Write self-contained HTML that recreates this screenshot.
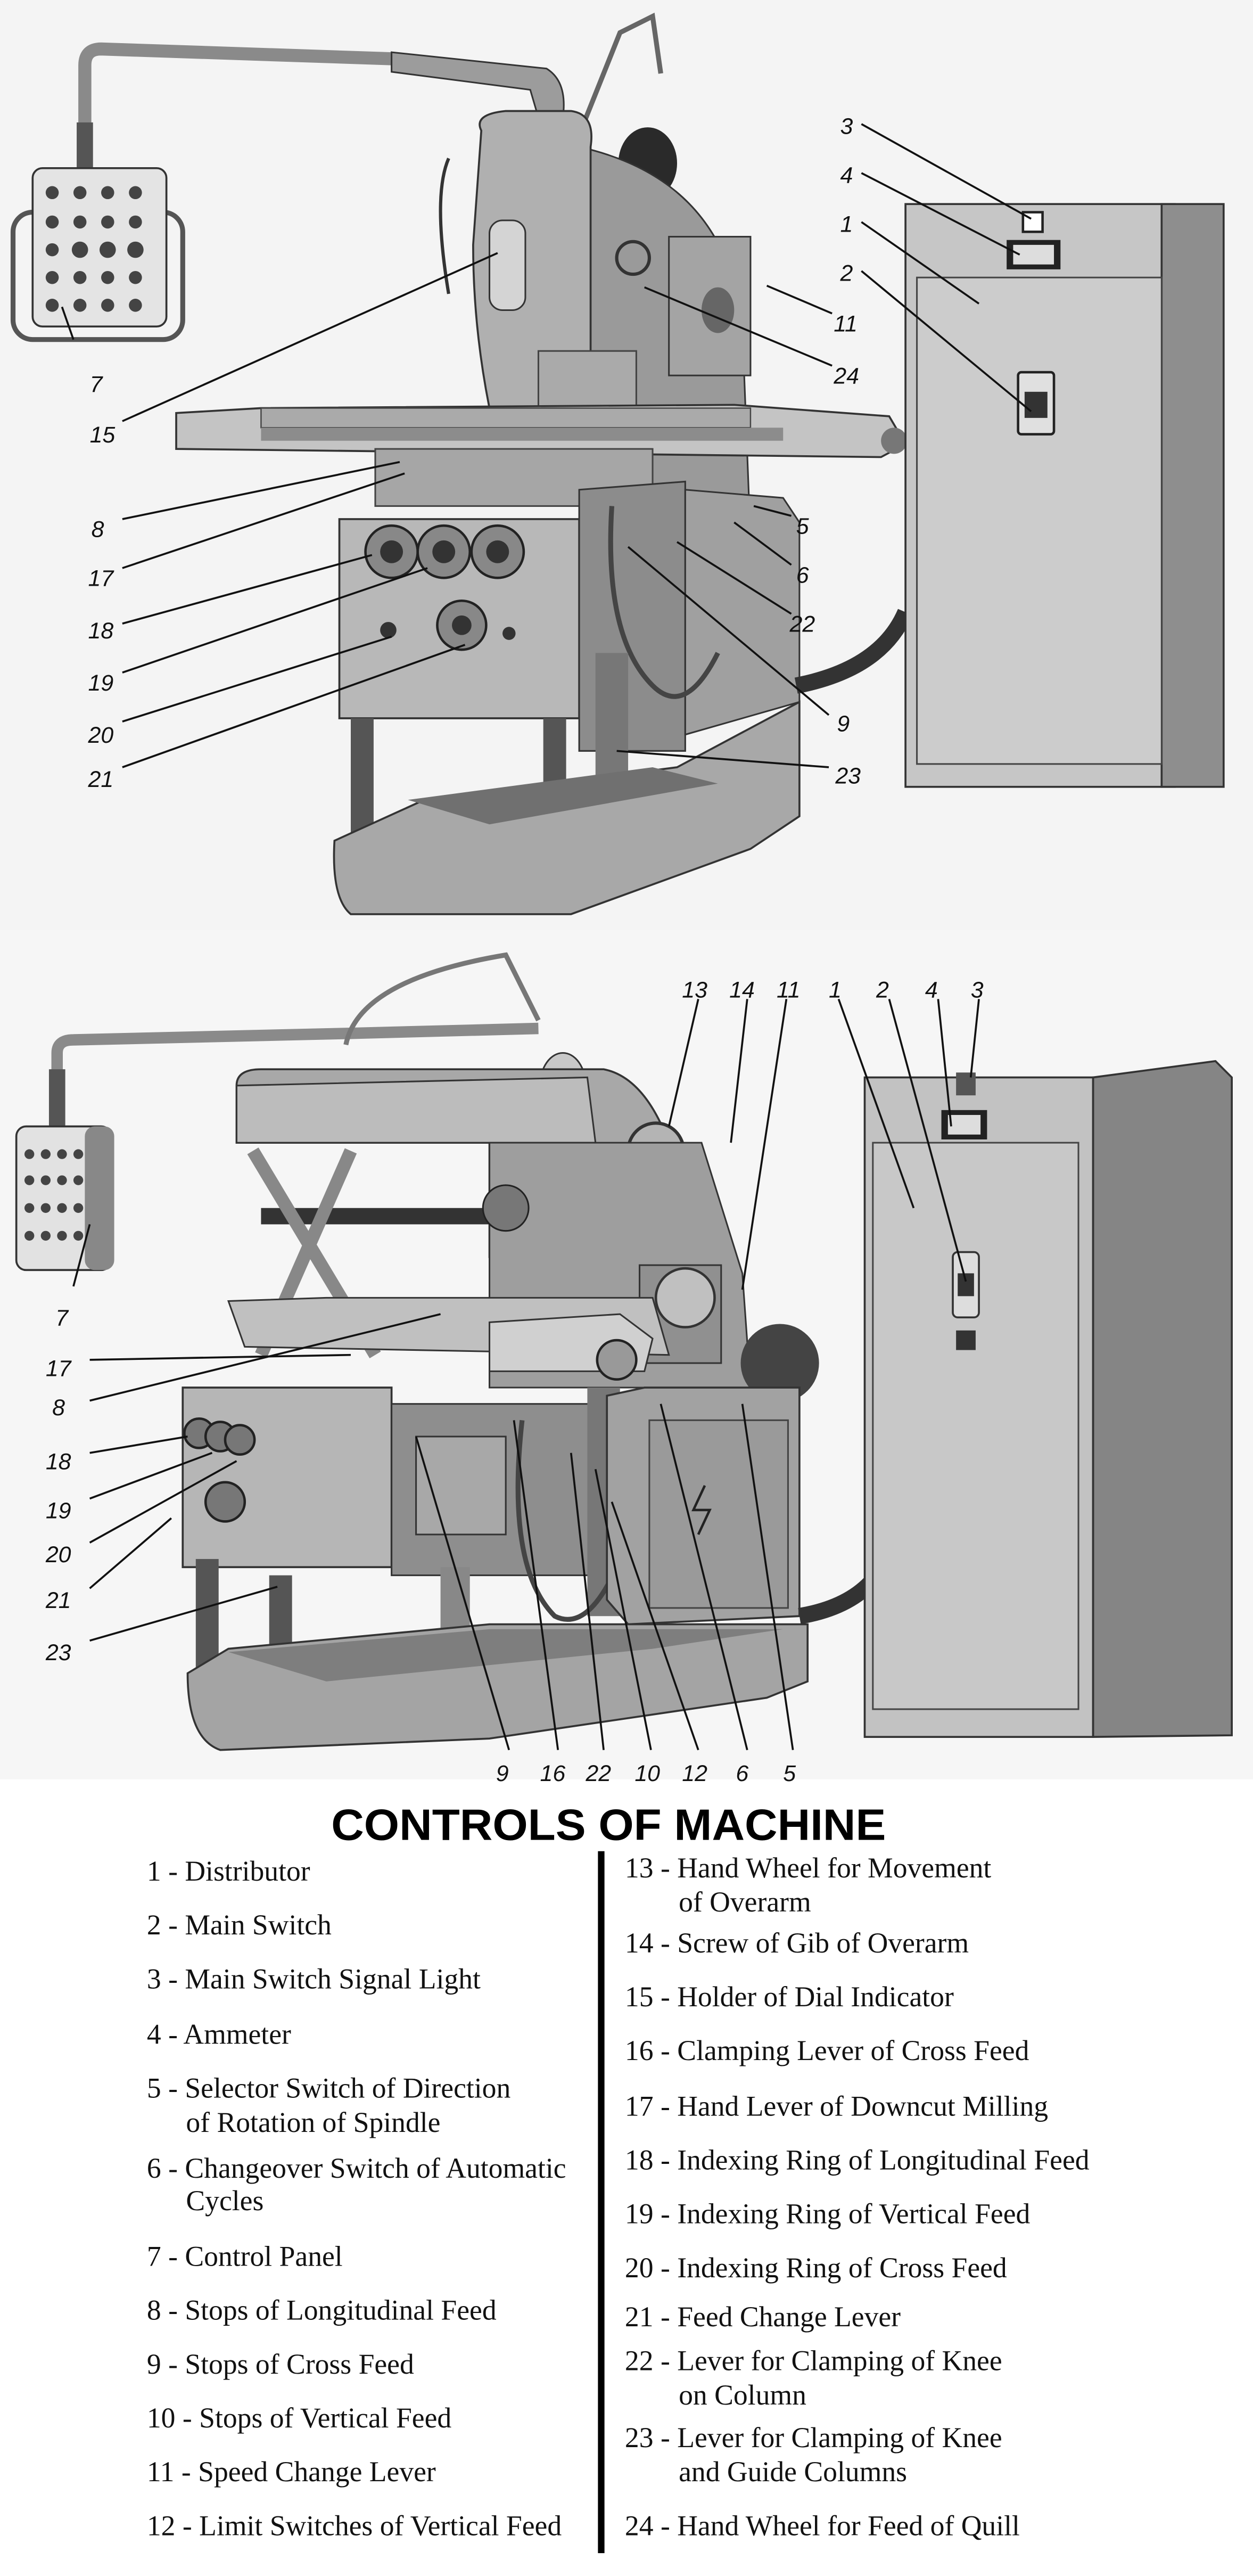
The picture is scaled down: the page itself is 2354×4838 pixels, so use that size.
<!DOCTYPE html>
<html><head><meta charset="utf-8"><style>
html,body{margin:0;padding:0;background:#fff;}
svg{display:block;}
.lb{font-family:"Liberation Sans",sans-serif;font-style:italic;font-size:14px;fill:#111;}
.it{font-family:"Liberation Serif",serif;font-size:17.5px;fill:#111;}
.ld{stroke:#111;stroke-width:1.2;fill:none;}
</style></head><body>
<svg width="2354" height="4838" viewBox="0 0 768 1578" preserveAspectRatio="none" xmlns="http://www.w3.org/2000/svg">
<rect width="768" height="1578" fill="#fff"/>
<rect width="768" height="570" fill="#f4f4f4"/>
<rect y="570" width="768" height="520" fill="#f6f6f6"/>

<!-- ===== TOP MACHINE ===== -->
<path d="M52,100 L52,40 Q52,30 62,30 L240,36 L330,48 L340,70" stroke="#8a8a8a" stroke-width="8" fill="none"/>
<path d="M240,32 L335,42 Q348,50 345,72 L330,72 L325,55 L240,44Z" fill="#9c9c9c" stroke="#333" stroke-width="1"/>
<rect x="47" y="75" width="10" height="30" fill="#555"/>
<rect x="8" y="130" width="104" height="78" rx="12" fill="none" stroke="#555" stroke-width="3"/>
<rect x="20" y="103" width="82" height="97" rx="6" fill="#e4e4e4" stroke="#333" stroke-width="1.2"/>
<g fill="#444">
<circle cx="32" cy="118" r="4"/><circle cx="49" cy="118" r="4"/><circle cx="66" cy="118" r="4"/><circle cx="83" cy="118" r="4"/>
<circle cx="32" cy="136" r="4"/><circle cx="49" cy="136" r="4"/><circle cx="66" cy="136" r="4"/><circle cx="83" cy="136" r="4"/>
<circle cx="32" cy="153" r="4"/><circle cx="49" cy="153" r="5"/><circle cx="66" cy="153" r="5"/><circle cx="83" cy="153" r="5"/>
<circle cx="32" cy="170" r="4"/><circle cx="49" cy="170" r="4"/><circle cx="66" cy="170" r="4"/><circle cx="83" cy="170" r="4"/>
<circle cx="32" cy="187" r="4"/><circle cx="49" cy="187" r="4"/><circle cx="66" cy="187" r="4"/><circle cx="83" cy="187" r="4"/>
</g>
<path d="M358,75 L380,20 L400,10 L405,45" stroke="#666" stroke-width="3" fill="none"/>
<ellipse cx="397" cy="100" rx="18" ry="22" fill="#2a2a2a"/>
<path d="M355,90 Q445,110 455,200 L460,330 L400,330 L360,290 Z" fill="#9a9a9a" stroke="#333" stroke-width="1"/>
<path d="M295,80 Q290,70 310,68 L350,68 Q365,70 362,90 L362,250 L300,250 Q290,200 290,150 Z" fill="#b0b0b0" stroke="#333" stroke-width="1.2"/>
<rect x="300" y="135" width="22" height="55" rx="8" fill="#d4d4d4" stroke="#333"/>
<rect x="410" y="145" width="50" height="85" fill="#a4a4a4" stroke="#333"/>
<ellipse cx="440" cy="190" rx="10" ry="14" fill="#666"/>
<circle cx="388" cy="158" r="10" fill="none" stroke="#333" stroke-width="2"/>
<rect x="330" y="215" width="60" height="35" fill="#aaa" stroke="#444"/>
<path d="M275,97 Q265,120 275,180" stroke="#333" stroke-width="2" fill="none"/>
<polygon points="108,253 160,250 450,248 545,255 555,272 540,280 108,275" fill="#c4c4c4" stroke="#333" stroke-width="1.2"/>
<rect x="160" y="250" width="300" height="12" fill="#aaa" stroke="#444" stroke-width="0.8"/>
<rect x="160" y="262" width="320" height="8" fill="#8c8c8c"/>
<circle cx="548" cy="270" r="8" fill="#777"/>
<rect x="230" y="275" width="170" height="35" fill="#a6a6a6" stroke="#444"/>
<path d="M208,318 L355,318 L355,440 L208,440 Z" fill="#b8b8b8" stroke="#333" stroke-width="1.2"/>
<g fill="#888" stroke="#222" stroke-width="1.5">
<circle cx="240" cy="338" r="16"/><circle cx="272" cy="338" r="16"/><circle cx="305" cy="338" r="16"/>
<circle cx="283" cy="383" r="15"/>
</g>
<g fill="#333"><circle cx="240" cy="338" r="7"/><circle cx="272" cy="338" r="7"/><circle cx="305" cy="338" r="7"/><circle cx="283" cy="383" r="6"/><circle cx="238" cy="386" r="5"/><circle cx="312" cy="388" r="4"/></g>
<path d="M355,300 L420,295 L420,460 L355,460 Z" fill="#8c8c8c" stroke="#333"/>
<path d="M420,300 L480,305 L490,320 L490,430 L420,450 Z" fill="#a0a0a0" stroke="#333"/>
<path d="M375,310 Q370,390 400,420 Q420,440 440,400" stroke="#444" stroke-width="3" fill="none"/>
<path d="M488,420 Q540,410 555,375" stroke="#333" stroke-width="10" fill="none"/>
<rect x="215" y="440" width="14" height="80" fill="#555"/>
<rect x="333" y="440" width="14" height="80" fill="#555"/>
<rect x="365" y="400" width="20" height="80" fill="#777"/>
<path d="M205,515 L260,490 L415,470 L490,430 L490,500 L460,520 L350,560 L215,560 Q203,550 205,515 Z" fill="#a8a8a8" stroke="#333" stroke-width="1.2"/>
<path d="M250,490 L400,470 L440,480 L300,505 Z" fill="#707070"/>
<rect x="555" y="125" width="165" height="357" fill="#c6c6c6" stroke="#333" stroke-width="1.2"/>
<rect x="712" y="125" width="38" height="357" fill="#8e8e8e" stroke="#333" stroke-width="1.2"/>
<rect x="562" y="170" width="150" height="298" fill="#cccccc" stroke="#444" stroke-width="1"/>
<rect x="624" y="228" width="22" height="38" rx="2" fill="#e0e0e0" stroke="#222" stroke-width="1.5"/>
<rect x="628" y="240" width="14" height="16" fill="#333"/>
<rect x="617" y="147" width="33" height="18" fill="#222"/><rect x="621" y="150" width="25" height="12" fill="#ddd"/>
<rect x="627" y="130" width="12" height="12" fill="#fff" stroke="#222" stroke-width="1.5"/>

<g class="ld">
<path d="M45,208 L38,188"/><path d="M75,258 L305,155"/>
<path d="M75,318 L245,283"/><path d="M75,348 L248,290"/><path d="M75,382 L228,340"/>
<path d="M75,412 L262,348"/><path d="M75,442 L240,390"/><path d="M75,470 L285,395"/>
<path d="M528,76 L632,134"/><path d="M528,106 L625,156"/><path d="M528,136 L600,186"/><path d="M528,166 L632,252"/>
<path d="M510,192 L470,175"/><path d="M510,224 L395,176"/>
<path d="M485,316 L462,310"/><path d="M485,346 L450,320"/><path d="M485,376 L415,332"/>
<path d="M508,438 L385,335"/><path d="M508,470 L378,460"/>
</g>
<g class="lb">
<text x="55" y="240">7</text><text x="55" y="271">15</text>
<text x="56" y="329">8</text><text x="54" y="359">17</text><text x="54" y="391">18</text><text x="54" y="423">19</text><text x="54" y="455">20</text><text x="54" y="482">21</text>
<text x="515" y="82">3</text><text x="515" y="112">4</text><text x="515" y="142">1</text><text x="515" y="172">2</text>
<text x="511" y="203">11</text><text x="511" y="235">24</text>
<text x="488" y="327">5</text><text x="488" y="357">6</text><text x="484" y="387">22</text>
<text x="513" y="448">9</text><text x="512" y="480">23</text>
</g>

<!-- ===== BOTTOM MACHINE ===== -->
<path d="M35,690 L35,645 Q35,637 45,637 L215,633 L330,630" stroke="#8a8a8a" stroke-width="7" fill="none"/>
<path d="M212,640 Q220,600 310,585 L330,625" stroke="#777" stroke-width="3" fill="none"/>
<ellipse cx="345" cy="665" rx="14" ry="20" fill="#c8c8c8" stroke="#333"/>
<rect x="30" y="655" width="10" height="35" fill="#555"/>
<rect x="10" y="690" width="58" height="88" rx="6" fill="#e2e2e2" stroke="#333" stroke-width="1.2"/>
<rect x="52" y="690" width="18" height="88" rx="6" fill="#888"/>
<g fill="#444">
<circle cx="18" cy="707" r="3"/><circle cx="28" cy="707" r="3"/><circle cx="38" cy="707" r="3"/><circle cx="48" cy="707" r="3"/>
<circle cx="18" cy="723" r="3"/><circle cx="28" cy="723" r="3"/><circle cx="38" cy="723" r="3"/><circle cx="48" cy="723" r="3"/>
<circle cx="18" cy="740" r="3"/><circle cx="28" cy="740" r="3"/><circle cx="38" cy="740" r="3"/><circle cx="48" cy="740" r="3"/>
<circle cx="18" cy="757" r="3"/><circle cx="28" cy="757" r="3"/><circle cx="38" cy="757" r="3"/><circle cx="48" cy="757" r="3"/>
</g>
<path d="M145,665 Q145,655 160,655 L370,655 Q395,660 410,700 L425,770 L300,770 L300,700 L145,700 Z" fill="#a8a8a8" stroke="#333" stroke-width="1.2"/>
<path d="M145,665 L360,660 L365,700 L145,700 Z" fill="#bcbcbc" stroke="#333"/>
<circle cx="402" cy="705" r="17" fill="#b4b4b4" stroke="#333" stroke-width="2"/>
<path d="M300,700 L430,700 L455,780 L460,850 L300,850 Z" fill="#9e9e9e" stroke="#333"/>
<rect x="392" y="775" width="50" height="60" fill="#909090" stroke="#333"/>
<circle cx="420" cy="795" r="18" fill="#c0c0c0" stroke="#333" stroke-width="1.5"/>
<circle cx="478" cy="835" r="24" fill="#444"/>
<rect x="160" y="740" width="140" height="10" fill="#333"/>
<circle cx="310" cy="740" r="14" fill="#777" stroke="#222"/>
<path d="M155,705 L230,830 M215,705 L160,830" stroke="#888" stroke-width="8" fill="none"/>
<polygon points="140,797 200,795 400,795 410,830 150,825" fill="#c0c0c0" stroke="#333"/>
<path d="M300,810 L380,805 L400,820 L395,840 L300,840 Z" fill="#d0d0d0" stroke="#333"/>
<circle cx="378" cy="833" r="12" fill="#999" stroke="#222" stroke-width="1.5"/>
<path d="M112,850 L240,850 L240,960 L112,960 Z" fill="#b6b6b6" stroke="#333" stroke-width="1.2"/>
<g fill="#777" stroke="#222" stroke-width="1.5"><circle cx="122" cy="878" r="9"/><circle cx="135" cy="880" r="9"/><circle cx="147" cy="882" r="9"/><circle cx="138" cy="920" r="12"/></g>
<rect x="240" y="860" width="130" height="105" fill="#8e8e8e" stroke="#333"/>
<rect x="255" y="880" width="55" height="60" fill="#a8a8a8" stroke="#333"/>
<path d="M360,850 L380,850 L380,990 L360,990 Z" fill="#777"/>
<path d="M320,870 Q310,960 340,990 Q360,1000 378,960" stroke="#444" stroke-width="3" fill="none"/>
<path d="M372,855 L395,850 L490,850 L490,990 L385,995 L372,980 Z" fill="#a2a2a2" stroke="#333" stroke-width="1.2"/>
<rect x="398" y="870" width="85" height="115" fill="#9a9a9a" stroke="#444"/>
<path d="M432,910 L425,925 L435,925 L428,940" stroke="#222" stroke-width="1.5" fill="none"/>
<path d="M490,990 Q520,985 535,968" stroke="#333" stroke-width="10" fill="none"/>
<rect x="120" y="955" width="14" height="80" fill="#555"/>
<rect x="165" y="965" width="14" height="75" fill="#555"/>
<rect x="270" y="960" width="18" height="50" fill="#888"/>
<path d="M115,1025 L140,1010 L300,995 L495,995 L495,1030 L470,1040 L300,1065 L135,1072 Q115,1065 115,1025 Z" fill="#a4a4a4" stroke="#333" stroke-width="1.2"/>
<path d="M140,1012 L300,998 L480,998 L400,1010 L200,1030 Z" fill="#7e7e7e"/>
<rect x="530" y="660" width="140" height="404" fill="#c2c2c2" stroke="#333" stroke-width="1.2"/>
<path d="M670,660 L745,650 L755,660 L755,1063 L670,1064 Z" fill="#858585" stroke="#333" stroke-width="1.2"/>
<rect x="535" y="700" width="126" height="347" fill="#c8c8c8" stroke="#444"/>
<rect x="584" y="767" width="16" height="40" rx="3" fill="#ddd" stroke="#333" stroke-width="1.2"/>
<rect x="587" y="780" width="10" height="14" fill="#333"/>
<rect x="586" y="815" width="12" height="12" fill="#333"/>
<rect x="577" y="680" width="28" height="18" fill="#222"/><rect x="581" y="683" width="20" height="12" fill="#ddd"/>
<rect x="586" y="657" width="12" height="14" fill="#555"/>

<g class="ld">
<path d="M428,612 L410,690"/><path d="M458,612 L448,700"/><path d="M482,612 L455,790"/>
<path d="M514,612 L560,740"/><path d="M545,612 L592,785"/><path d="M575,612 L583,690"/><path d="M600,612 L595,660"/>
<path d="M45,788 L55,750"/>
<path d="M55,833 L215,830"/><path d="M55,858 L270,805"/>
<path d="M55,890 L115,880"/><path d="M55,918 L130,890"/><path d="M55,945 L145,895"/><path d="M55,973 L105,930"/><path d="M55,1005 L170,972"/>
<path d="M312,1072 L255,880"/><path d="M342,1072 L315,870"/><path d="M370,1072 L350,890"/><path d="M399,1072 L365,900"/><path d="M428,1072 L375,920"/><path d="M458,1072 L405,860"/><path d="M486,1072 L455,860"/>
</g>
<g class="lb">
<text x="418" y="611">13</text><text x="447" y="611">14</text><text x="476" y="611">11</text><text x="508" y="611">1</text><text x="537" y="611">2</text><text x="567" y="611">4</text><text x="595" y="611">3</text>
<text x="34" y="812">7</text>
<text x="28" y="843">17</text><text x="32" y="867">8</text><text x="28" y="900">18</text><text x="28" y="930">19</text><text x="28" y="957">20</text><text x="28" y="985">21</text><text x="28" y="1017">23</text>
<text x="304" y="1091">9</text><text x="331" y="1091">16</text><text x="359" y="1091">22</text><text x="389" y="1091">10</text><text x="418" y="1091">12</text><text x="451" y="1091">6</text><text x="480" y="1091">5</text>
</g>

<text x="203" y="1127" textLength="340" lengthAdjust="spacingAndGlyphs" style="font-family:'Liberation Sans',sans-serif;font-weight:bold;font-size:27px;fill:#000;">CONTROLS OF MACHINE</text>
<rect x="366.5" y="1134" width="4" height="430" fill="#000"/>

<g class="it">
<text x="90" y="1152">1 - Distributor</text>
<text x="90" y="1185">2 - Main Switch</text>
<text x="90" y="1218">3 - Main Switch Signal Light</text>
<text x="90" y="1252">4 - Ammeter</text>
<text x="90" y="1285">5 - Selector Switch of Direction</text>
<text x="114" y="1306">of Rotation of Spindle</text>
<text x="90" y="1334">6 - Changeover Switch of Automatic</text>
<text x="114" y="1354">Cycles</text>
<text x="90" y="1388">7 - Control Panel</text>
<text x="90" y="1421">8 - Stops of Longitudinal Feed</text>
<text x="90" y="1454">9 - Stops of Cross Feed</text>
<text x="90" y="1487">10 - Stops of Vertical Feed</text>
<text x="90" y="1520">11 - Speed Change Lever</text>
<text x="90" y="1553">12 - Limit Switches of Vertical Feed</text>

<text x="383" y="1150">13 - Hand Wheel for Movement</text>
<text x="416" y="1171">of Overarm</text>
<text x="383" y="1196">14 - Screw of Gib of Overarm</text>
<text x="383" y="1229">15 - Holder of Dial Indicator</text>
<text x="383" y="1262">16 - Clamping Lever of Cross Feed</text>
<text x="383" y="1296">17 - Hand Lever of Downcut Milling</text>
<text x="383" y="1329">18 - Indexing Ring of Longitudinal Feed</text>
<text x="383" y="1362">19 - Indexing Ring of Vertical Feed</text>
<text x="383" y="1395">20 - Indexing Ring of Cross Feed</text>
<text x="383" y="1425">21 - Feed Change Lever</text>
<text x="383" y="1452">22 - Lever for  Clamping of Knee</text>
<text x="416" y="1473">on Column</text>
<text x="383" y="1499">23 - Lever for Clamping of Knee</text>
<text x="416" y="1520">and Guide Columns</text>
<text x="383" y="1553">24 - Hand Wheel for Feed of Quill</text>
</g>
</svg>
</body></html>
